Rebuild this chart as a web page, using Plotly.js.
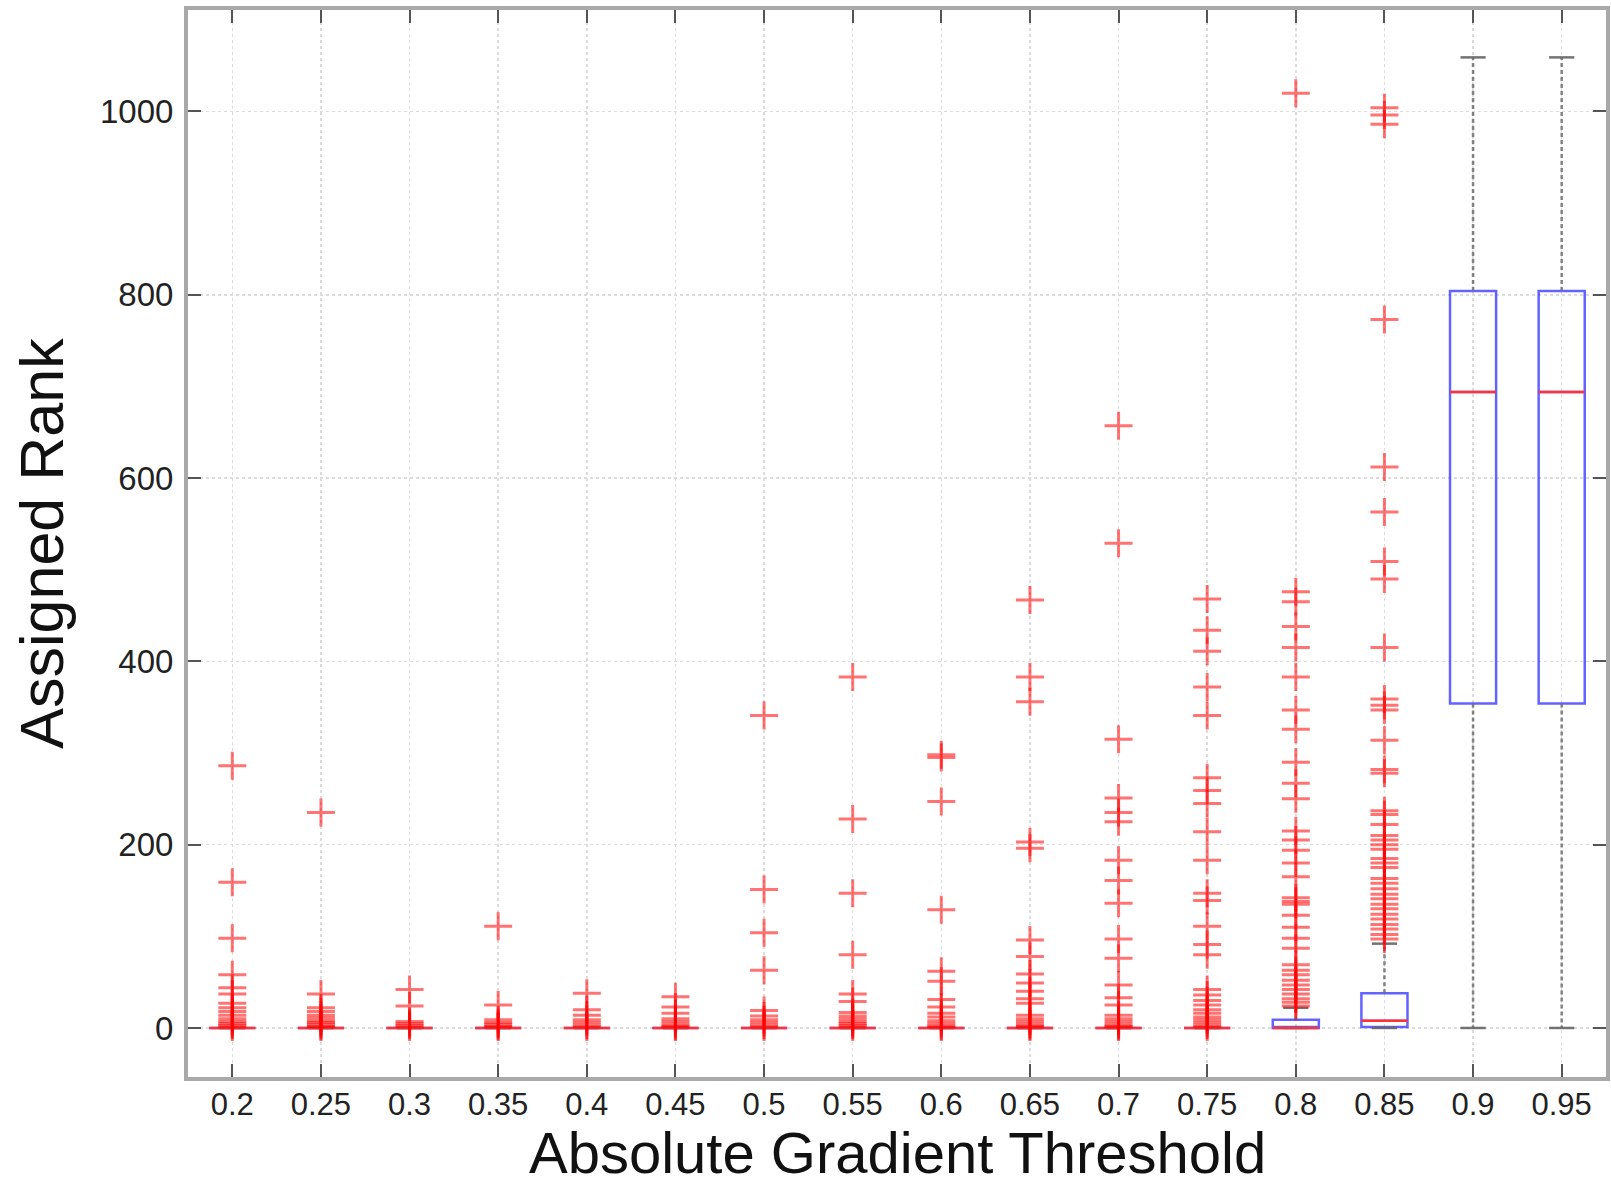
<!DOCTYPE html>
<html><head><meta charset="utf-8">
<script src="https://cdn.plot.ly/plotly-3.0.1.min.js"></script>
<style>html,body{margin:0;padding:0;background:#fff;} #chart{width:1611px;height:1188px;}</style>
</head><body><div id="chart"></div>
<script>
const categories = ['0.2','0.25','0.3','0.35','0.4','0.45','0.5','0.55','0.6','0.65','0.7','0.75','0.8','0.85','0.9','0.95'];
const q1         = [0,0,0,0,0,0,0,0,0,0,0,0,0,1,354,354];
const median     = [0,0,0,0,0,0,0,0,0,0,0,0,0,8,694,694];
const q3         = [0,0,0,0,0,0,0,0,0,0,0,0,9,38,804,804];
const lowerFence = [0,0,0,0,0,0,0,0,0,0,0,0,0,0,0,0];
const upperFence = [0,0,0,0,0,0,0,0,0,0,0,0,22,92,1059,1059];
const outliers = [
  [286,159,98,58,44,37,27,22,18,14,10,7,5,3,1],
  [235,37,22,18,14,11,8,6,4,2,1],
  [42,24,7,5,3,1],
  [111,25,9,6,4,2,1],
  [38,20,14,9,6,3,1],
  [34,23,16,10,7,4,2,1],
  [341,151,104,63,19,13,9,6,3,1],
  [383,228,147,80,37,29,17,13,10,7,5,3,1],
  [298,295,247,129,62,51,31,23,16,12,8,5,2,1],
  [467,383,356,203,196,96,78,59,49,40,32,27,14,10,7,4,2,1],
  [657,529,315,251,235,225,183,161,136,97,76,47,33,25,14,10,7,4,2,1],
  [468,434,411,372,341,273,259,245,214,183,147,139,111,91,80,42,36,30,25,20,16,12,9,6,3,1],
  [1020,476,465,438,415,383,347,326,290,267,250,215,205,194,180,165,142,138,135,123,110,98,87,69,63,58,52,47,42,37,32,28,24],
  [1004,996,986,773,612,563,509,490,415,359,352,347,314,282,278,237,233,222,210,205,200,195,185,180,175,163,158,152,146,141,135,130,124,119,113,108,102,97],
  [],
  []
];
const xTitle = 'Absolute Gradient Threshold';
const yTitle = 'Assigned Rank';

// derived arrays for drawing
const wx = [], wy = [], capx = [], capy = [], ox = [], oy = [];
categories.forEach((c, i) => {
  wx.push(c, c, null, c, c, null);
  wy.push(q3[i], upperFence[i], null, q1[i], lowerFence[i], null);
  capx.push(c, c); capy.push(upperFence[i], lowerFence[i]);
  outliers[i].forEach(v => { ox.push(c); oy.push(v); });
});

const font = 'Liberation Sans, Arial, Helvetica, sans-serif';

const data = [
  {
    type: 'box', x: categories, q1: q1, median: median, q3: q3,
    lowerfence: q1, upperfence: q3,
    width: 0.52, whiskerwidth: 0, boxpoints: false,
    fillcolor: 'rgba(0,0,0,0)',
    line: {color: 'rgba(60,60,255,0.8)', width: 2.5},
    hoverinfo: 'skip', showlegend: false
  },
  {
    type: 'scatter', mode: 'lines', x: wx, y: wy,
    line: {color: 'rgba(110,110,110,0.85)', width: 2.5, dash: '4px,3px'},
    hoverinfo: 'skip', showlegend: false, connectgaps: false
  },
  {
    type: 'scatter', mode: 'markers', x: capx, y: capy,
    marker: {symbol: 'line-ew', size: 18, line: {color: 'rgba(100,100,100,0.9)', width: 2.5}},
    hoverinfo: 'skip', showlegend: false
  },
  {
    type: 'scatter', mode: 'markers', x: categories, y: median,
    marker: {symbol: 'line-ew', size: 33, line: {color: '#ff3333', width: 2.5}},
    hoverinfo: 'skip', showlegend: false
  },
  {
    type: 'scatter', mode: 'markers', x: ox, y: oy,
    marker: {symbol: 'cross-thin', size: 20, line: {color: 'rgba(255,0,0,0.55)', width: 3}},
    hoverinfo: 'skip', showlegend: false
  }
];

const layout = {
  width: 1611, height: 1188,
  margin: {l: 188, r: 5, t: 10, b: 111},
  paper_bgcolor: '#fff', plot_bgcolor: '#fff',
  showlegend: false,
  xaxis: {
    type: 'category', range: [-0.5, 15.5],
    showline: true, linecolor: '#a9a9a9', linewidth: 4, mirror: 'ticks',
    ticks: 'inside', ticklen: 13, tickwidth: 2, tickcolor: '#555',
    showgrid: true, gridcolor: '#dcdcdc', gridwidth: 1.5, griddash: '3px,3px',
    tickfont: {family: font, size: 31, color: '#222'},
    ticklabelstandoff: -3
  },
  yaxis: {
    range: [-53.5, 1110.7], tick0: 0, dtick: 200, zeroline: false,
    showline: true, linecolor: '#a9a9a9', linewidth: 4, mirror: 'ticks',
    ticks: 'inside', ticklen: 13, tickwidth: 2, tickcolor: '#555',
    showgrid: true, gridcolor: '#dcdcdc', gridwidth: 1.5, griddash: '3px,3px',
    tickfont: {family: font, size: 33, color: '#222'},
    ticklabelstandoff: 4,
    title: {text: yTitle, font: {family: font, size: 61, color: '#111'}, standoff: 18}
  },
  annotations: [{
    text: xTitle, xref: 'paper', yref: 'paper', x: 0.5, y: 0,
    xanchor: 'center', yanchor: 'bottom', yshift: -110, showarrow: false,
    font: {family: font, size: 58, color: '#111'}
  }]
};

Plotly.newPlot('chart', data, layout, {displayModeBar: false, staticPlot: true});
</script>
</body></html>
